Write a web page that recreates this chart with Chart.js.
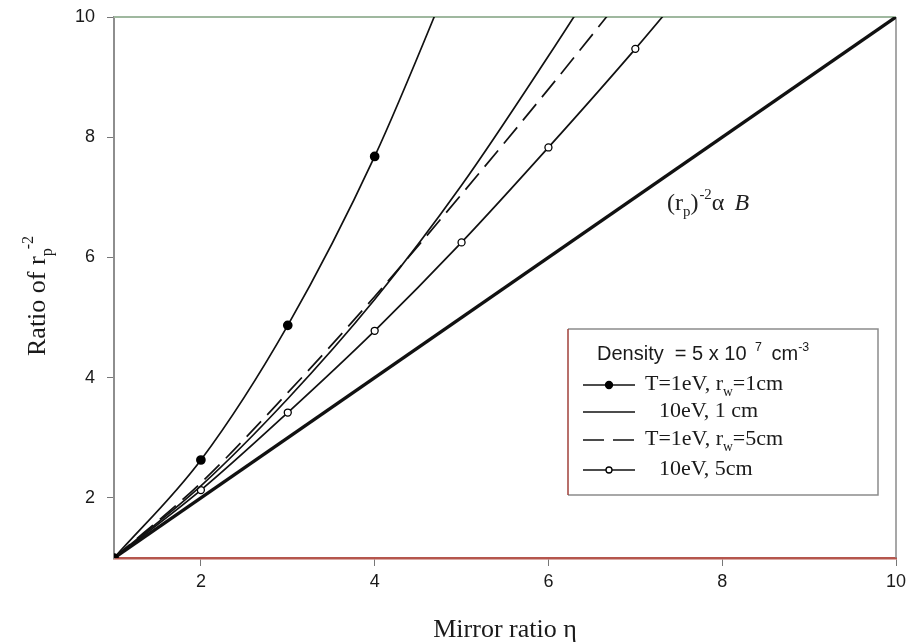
<!DOCTYPE html>
<html><head><meta charset="utf-8">
<script src="https://cdn.jsdelivr.net/npm/chart.js@4/dist/chart.umd.min.js"></script>
<style>html,body{margin:0;padding:0;background:#fff}#wrap{width:909px;height:644px;position:relative}</style>
</head><body><div id="wrap"><canvas id="c" width="909" height="644"></canvas></div>
<script>
// ---- data ----
const xTicks = [2, 4, 6, 8, 10];
const yTicks = [2, 4, 6, 8, 10];
const etaT1r1 = [1, 2, 3, 4, 5];
const ratioT1r1 = [1, 2.63, 4.87, 7.68, 11.1];
const eta10r1 = [1, 2, 3, 4, 5, 6, 7];
const ratio10r1 = [1, 2.2, 3.65, 5.3, 7.2, 9.35, 11.6];
const etaT1r5 = [1, 2, 3, 4, 5, 6, 7];
const ratioT1r5 = [1, 2.25, 3.75, 5.35, 7.05, 8.8, 10.6];
const eta10r5 = [1, 2, 3, 4, 5, 6, 7, 8];
const ratio10r5 = [1, 2.13, 3.42, 4.78, 6.25, 7.83, 9.47, 11.2];
const etaLin = [1, 10];
const ratioLin = [1, 10];
const legendLabels = ['T=1eV, r|w|=1cm', '10eV, 1 cm', 'T=1eV, r|w|=5cm', '10eV, 5cm'];

const pts = (xs, ys) => xs.map((x, i) => ({x: x, y: ys[i]}));
const inRange = r => (ctx) => (ctx.raw && ctx.raw.y <= 10 ? r : 0);

const SERIF = '"Liberation Serif", "Times New Roman", serif';
const SANS = '"Liberation Sans", Arial, sans-serif';

function richText(ctx, x, y, segs, size, family) {
  let cx = x;
  segs.forEach(s => {
    let sz = size, dy = 0;
    if (s.mode === 'sub') { sz = size * 0.62; dy = size * 0.25; }
    if (s.mode === 'sup') { sz = size * 0.62; dy = -size * 0.45; }
    ctx.font = (s.italic ? 'italic ' : '') + sz + 'px ' + family;
    cx += (s.pre || 0);
    ctx.fillText(s.t, cx, y + dy);
    cx += ctx.measureText(s.t).width + (s.gap || 0);
  });
  return cx;
}
function parseLabel(lbl) {
  const parts = lbl.split('|');
  return parts.map((p, i) => ({t: p, mode: i % 2 === 1 ? 'sub' : 'n'}));
}

const framePlugin = {
  id: 'frame',
  beforeDatasetsDraw(chart) {
    const {ctx, chartArea: a} = chart;
    ctx.save();
    ctx.lineWidth = 2;
    ctx.strokeStyle = '#9fb89f';
    ctx.beginPath(); ctx.moveTo(a.left, a.top); ctx.lineTo(a.right, a.top); ctx.stroke();
    ctx.strokeStyle = '#8a8a8a';
    ctx.lineWidth = 1.5;
    ctx.beginPath(); ctx.moveTo(a.right, a.top); ctx.lineTo(a.right, a.bottom); ctx.stroke();
    ctx.restore();
  },
  afterDraw(chart) {
    const {ctx} = chart;
    ctx.save();
    ctx.fillStyle = '#1a1a1a';
    ctx.textBaseline = 'alphabetic';
    // x title
    ctx.font = '26px ' + SERIF;
    ctx.textAlign = 'center';
    ctx.fillText('Mirror ratio η', 505, 637);
    ctx.textAlign = 'left';
    // y title
    ctx.save();
    ctx.translate(45, 0);
    ctx.rotate(-Math.PI / 2);
    richText(ctx, -356, 0, [{t: 'Ratio of r'}, {t: 'p', mode: 'sub'}, {t: '-2', mode: 'sup', pre: -1}], 26, SERIF);
    ctx.restore();
    // annotation
    ctx.fillStyle = '#222';
    richText(ctx, 667, 210, [{t: '(r'}, {t: 'p', mode: 'sub'}, {t: ')', gap: 1}, {t: '-2', mode: 'sup'}, {t: 'α', gap: 10}, {t: 'B', italic: true}], 24, SERIF);

    // legend box
    const L = {l: 568, t: 329, r: 878, b: 495};
    ctx.fillStyle = '#fff';
    ctx.fillRect(L.l, L.t, L.r - L.l, L.b - L.t);
    ctx.lineWidth = 1.5;
    ctx.strokeStyle = '#8c8c8c';
    ctx.beginPath(); ctx.moveTo(L.l, L.t); ctx.lineTo(L.r, L.t); ctx.lineTo(L.r, L.b); ctx.lineTo(L.l, L.b); ctx.stroke();
    ctx.strokeStyle = '#a0403a';
    ctx.beginPath(); ctx.moveTo(L.l, L.t); ctx.lineTo(L.l, L.b); ctx.stroke();
    ctx.fillStyle = '#1a1a1a';
    richText(ctx, 597, 360, [{t: 'Density  = 5 x 10 ', gap: 3}, {t: '7', mode: 'sup', gap: 4}, {t: ' cm'}, {t: '-3', mode: 'sup'}], 20, SANS);
    const rowsY = [385, 412, 440, 470];
    const textX = [645, 659, 645, 659];
    chart.data.datasets.slice(0, 4).forEach((ds, i) => {
      const y = rowsY[i];
      ctx.save();
      ctx.strokeStyle = ds.borderColor;
      ctx.lineWidth = 1.6;
      ctx.setLineDash(ds.borderDash || []);
      ctx.beginPath(); ctx.moveTo(583, y); ctx.lineTo(635, y); ctx.stroke();
      ctx.setLineDash([]);
      if (ds.legendMarker) {
        ctx.beginPath(); ctx.arc(609, y, ds.legendMarker, 0, Math.PI * 2);
        ctx.fillStyle = ds.pointBackgroundColor; ctx.fill();
        ctx.lineWidth = 1.3; ctx.strokeStyle = '#000'; ctx.stroke();
      }
      ctx.restore();
      ctx.fillStyle = '#1a1a1a';
      richText(ctx, textX[i], y + 5, parseLabel(ds.label), 22, SERIF);
    });
    ctx.restore();
  }
};

const ds = (label, data, extra) => Object.assign({
  label: label, data: data, showLine: true, borderColor: '#111', borderWidth: 1.7,
  pointRadius: 0, fill: false, clip: 0, cubicInterpolationMode: 'monotone'
}, extra);

new Chart(document.getElementById('c'), {
  type: 'scatter',
  data: {
    datasets: [
      ds(legendLabels[0], pts(etaT1r1, ratioT1r1), {pointRadius: inRange(4), pointBackgroundColor: '#000', pointBorderColor: '#000', legendMarker: 3.5}),
      ds(legendLabels[1], pts(eta10r1, ratio10r1), {}),
      ds(legendLabels[2], pts(etaT1r5, ratioT1r5), {borderDash: [21, 9]}),
      ds(legendLabels[3], pts(eta10r5, ratio10r5), {pointRadius: inRange(3.5), pointBackgroundColor: '#fff', pointBorderColor: '#000', pointBorderWidth: 1.3, legendMarker: 3}),
      ds('(rp)^-2 α B', pts(etaLin, ratioLin), {borderWidth: 3.4, cubicInterpolationMode: 'default', order: 5})
    ]
  },
  options: {
    responsive: false,
    animation: false,
    layout: {padding: {left: 0, right: 13, top: 17, bottom: 0}},
    plugins: {legend: {display: false}, tooltip: {enabled: false}},
    scales: {
      x: {
        type: 'linear', min: 1, max: 10,
        afterBuildTicks: s => { s.ticks = xTicks.map(v => ({value: v})); },
        afterFit: s => { s.height = 86; s.paddingLeft = 0; s.paddingRight = 0; },
        ticks: {color: '#1a1a1a', font: {family: SANS, size: 18}, padding: 5, maxRotation: 0},
        grid: {drawOnChartArea: false, drawTicks: true, tickLength: 8, color: '#777'},
        border: {color: '#b5564d', width: 2.5}
      },
      y: {
        type: 'linear', min: 1, max: 10,
        afterBuildTicks: s => { s.ticks = yTicks.map(v => ({value: v})); },
        afterFit: s => { s.width = 114; s.paddingTop = 0; s.paddingBottom = 0; },
        ticks: {color: '#1a1a1a', font: {family: SANS, size: 18}, padding: 12},
        grid: {drawOnChartArea: false, drawTicks: true, tickLength: 7, color: '#777'},
        border: {color: '#8e8e8e', width: 2}
      }
    }
  },
  plugins: [framePlugin]
});
</script>
</body></html>
